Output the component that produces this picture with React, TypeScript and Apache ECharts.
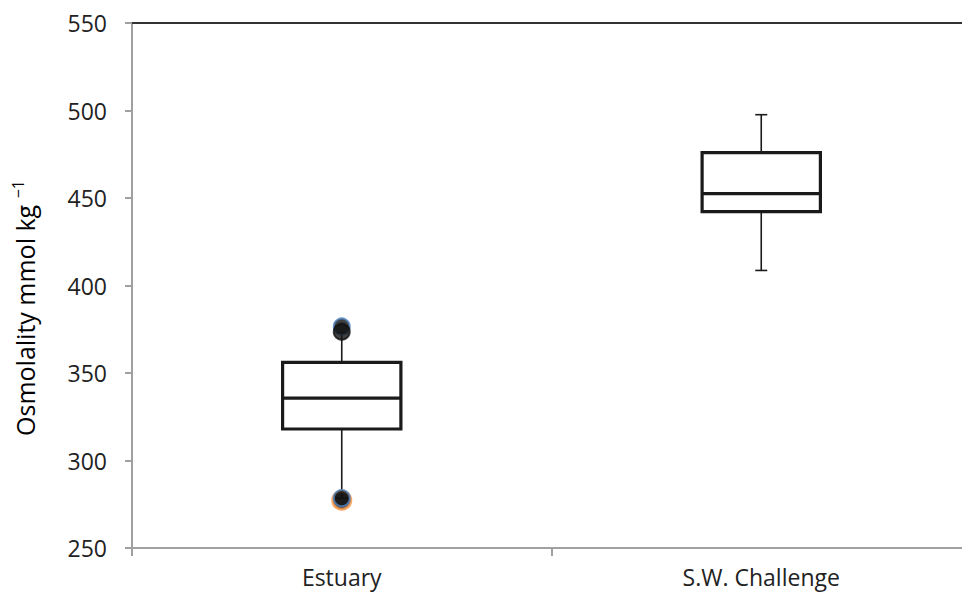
import React, { useEffect, useRef } from "react";
import * as echarts from "echarts";

const categories = ["Estuary", "S.W. Challenge"];
const lowerWhisker = [278.5, 408.6];
const q1 = [318, 442.2];
const median = [335.6, 452.5];
const q3 = [356.1, 475.9];
const upperWhisker = [373, 497.6];
const yTicks = { min: 250, max: 550, interval: 50 };

// Estuary outliers
const outlierValues = [376.6, 373.6, 277.3, 278.5];
const outlierCategory = [0, 0, 0, 0];
const outlierBorders = ["#4f81bd", "#111111", "#f79646", "#4f81bd"];

const FONT = "'Open Sans', 'Noto Sans', sans-serif";

export default function App() {
  const ref = useRef<HTMLDivElement>(null);
  useEffect(() => {
    if (!ref.current) return;
    const chart = echarts.init(ref.current, null, { renderer: "svg" });
    const boxData = categories.map((_, i) => [
      i,
      lowerWhisker[i],
      q1[i],
      median[i],
      q3[i],
      upperWhisker[i],
    ]);
    const outlierData = outlierValues.map((v, i) => ({
      value: [outlierCategory[i], v],
      symbolSize: i === 2 ? 18 : 16,
      itemStyle: {
        color: "#111111",
        borderColor: outlierBorders[i],
        borderWidth: i === 2 ? 3 : 2,
      },
    }));
    chart.setOption({
      animation: false,
      grid: {
        left: 132,
        right: -9,
        top: 23,
        bottom: 50,
        containLabel: false,
        outerBoundsMode: "none",
      },
      xAxis: [
        {
          type: "category",
          data: categories,
          boundaryGap: true,
          axisLine: { show: true, lineStyle: { color: "#a0a0a0", width: 2 } },
          axisTick: { show: true, length: 8, lineStyle: { color: "#a0a0a0", width: 2 } },
          axisLabel: { fontFamily: FONT, fontSize: 23, color: "#222", margin: 17 },
          splitLine: { show: false },
        },
        {
          type: "category",
          data: categories,
          position: "top",
          axisLine: { show: true, lineStyle: { color: "#333", width: 2 } },
          axisTick: { show: false },
          axisLabel: { show: false },
          splitLine: { show: false },
        },
      ],
      yAxis: {
        type: "value",
        min: yTicks.min,
        max: yTicks.max,
        interval: yTicks.interval,
        axisLine: { show: true, lineStyle: { color: "#a0a0a0", width: 2 } },
        axisTick: { show: true, length: 7, lineStyle: { color: "#a0a0a0", width: 2 } },
        axisLabel: { fontFamily: FONT, fontSize: 23, color: "#222", margin: 25 },
        splitLine: { show: false },
      },
      graphic: [
        {
          type: "text",
          x: 25,
          y: 308,
          rotation: Math.PI / 2,
          style: {
            text: "{a|Osmolality mmol kg }{b|−1}",
            align: "center",
            verticalAlign: "middle",
            rich: {
              a: { fontFamily: FONT, fontSize: 25, color: "#222", lineHeight: 30 },
              b: {
                fontFamily: FONT,
                fontSize: 16,
                color: "#222",
                lineHeight: 16,
                verticalAlign: "top",
              },
            },
          },
        },
      ],
      series: [
        {
          type: "custom",
          data: boxData,
          encode: { x: 0, y: [1, 2, 3, 4, 5] },
          renderItem: (params: any, api: any) => {
            const idx = api.value(0);
            const pLow = api.coord([idx, api.value(1)]);
            const pQ1 = api.coord([idx, api.value(2)]);
            const pMed = api.coord([idx, api.value(3)]);
            const pQ3 = api.coord([idx, api.value(4)]);
            const pHigh = api.coord([idx, api.value(5)]);
            const band = api.size([1, 0])[0];
            const half = (band * 0.282) / 2;
            const cap = 6;
            const x = pMed[0];
            const thin = { stroke: "#1a1a1a", lineWidth: 1.6 };
            const thick = { stroke: "#1a1a1a", lineWidth: 3.2 };
            return {
              type: "group",
              children: [
                { type: "line", shape: { x1: x, y1: pQ3[1], x2: x, y2: pHigh[1] }, style: thin },
                { type: "line", shape: { x1: x, y1: pQ1[1], x2: x, y2: pLow[1] }, style: thin },
                { type: "line", shape: { x1: x - cap, y1: pHigh[1], x2: x + cap, y2: pHigh[1] }, style: thin },
                { type: "line", shape: { x1: x - cap, y1: pLow[1], x2: x + cap, y2: pLow[1] }, style: thin },
                {
                  type: "rect",
                  shape: { x: x - half, y: pQ3[1], width: half * 2, height: pQ1[1] - pQ3[1] },
                  style: { fill: "#ffffff", ...thick },
                },
                { type: "line", shape: { x1: x - half, y1: pMed[1], x2: x + half, y2: pMed[1] }, style: thick },
              ],
            };
          },
          z: 2,
        },
        {
          type: "scatter",
          data: outlierData,
          symbol: "circle",
          z: 3,
        },
      ],
    });
    return () => chart.dispose();
  }, []);
  return (
    <div
      ref={ref}
      style={{ position: "fixed", left: 0, top: 0, width: 962, height: 598, background: "#fff" }}
    />
  );
}
